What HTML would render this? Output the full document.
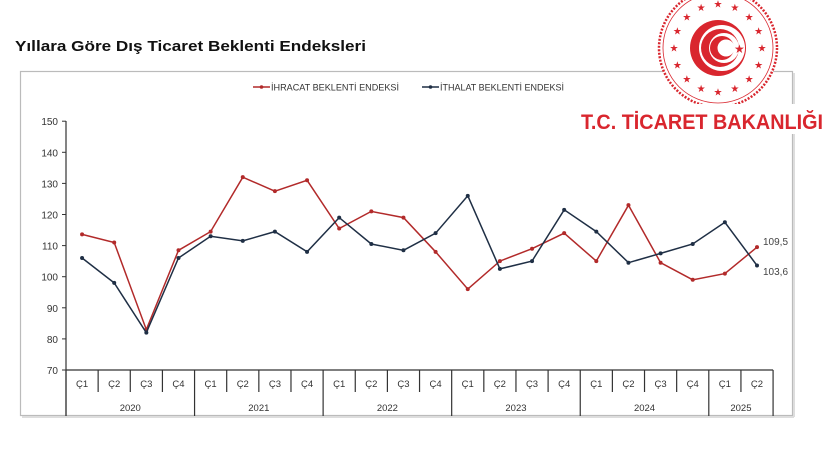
<!DOCTYPE html>
<html><head><meta charset="utf-8"><style>
body{margin:0;background:#fff;width:825px;height:450px;overflow:hidden;font-family:"Liberation Sans",sans-serif}
</style></head><body>
<svg id="s" width="825" height="450" xmlns="http://www.w3.org/2000/svg" font-family="Liberation Sans, sans-serif">
<text x="15" y="51" font-size="15" font-weight="bold" fill="#111" textLength="351" lengthAdjust="spacingAndGlyphs">Yıllara Göre Dış Ticaret Beklenti Endeksleri</text>
<rect x="20.5" y="71.5" width="772" height="344" fill="#fff" stroke="#bbb" stroke-width="1.2"/>
<line x1="22" y1="417" x2="794" y2="417" stroke="#ddd" stroke-width="2"/>
<line x1="794" y1="73" x2="794" y2="417" stroke="#ddd" stroke-width="2"/>
<g id="logo">
<circle cx="718" cy="48" r="60" fill="#fff"/>
<circle cx="718" cy="48" r="59" fill="none" stroke="#d9262e" stroke-width="2.5" stroke-dasharray="2 1.5"/>
<circle cx="718" cy="48" r="55" fill="none" stroke="#d9262e" stroke-width="0.8"/>
<circle cx="718" cy="48" r="28" fill="#d9262e"/>
<circle cx="722" cy="48" r="23" fill="#fff"/>
<circle cx="720" cy="48" r="19" fill="#d9262e"/>
<circle cx="724" cy="48" r="15" fill="#fff"/>
<circle cx="722" cy="48" r="12" fill="#d9262e"/>
<circle cx="726" cy="48" r="8.5" fill="#fff"/>
<text x="734" y="53" font-size="12" fill="#d9262e">★</text>
</g>
<g id="stars" fill="#d9262e" font-size="10" text-anchor="middle"></g>
<rect x="575" y="104" width="250" height="30" fill="#fff"/>
<text x="581" y="129" font-size="21" font-weight="bold" fill="#d9262e" textLength="242" lengthAdjust="spacingAndGlyphs">T.C. TİCARET BAKANLIĞI</text>
<g font-size="9" fill="#333">
<line x1="253" y1="87" x2="270" y2="87" stroke="#b22a2a" stroke-width="1.5"/><circle cx="261.5" cy="87" r="1.8" fill="#b22a2a"/>
<text x="271" y="90.5" textLength="128" lengthAdjust="spacingAndGlyphs">İHRACAT BEKLENTİ ENDEKSİ</text>
<line x1="422" y1="87" x2="439" y2="87" stroke="#1f2f45" stroke-width="1.5"/><circle cx="430.5" cy="87" r="1.8" fill="#1f2f45"/>
<text x="440" y="90.5" textLength="124" lengthAdjust="spacingAndGlyphs">İTHALAT BEKLENTİ ENDEKSİ</text>
</g>
<g id="ax"></g>
</svg>
<script>
var st='';for(var k=0;k<16;k++){var a=k*Math.PI*2/16;st+='<text x="'+(718+44*Math.cos(a))+'" y="'+(48+44*Math.sin(a)+3.5)+'">★</text>';}
document.getElementById('stars').innerHTML=st;
var g=document.getElementById('ax'),h='';
function Y(v){return 370-(v-70)*3.11}
var x0=66,bw=32.14;
h+='<line x1="66" y1="121" x2="66" y2="416" stroke="#333" stroke-width="1.2"/>';
for(var v=70;v<=150;v+=10){var y=Y(v);h+='<line x1="62" y1="'+y+'" x2="66" y2="'+y+'" stroke="#333"/><text x="58" y="'+(y+4)+'" font-size="10" text-anchor="end" fill="#333">'+v+'</text>';}
h+='<line x1="66" y1="370" x2="'+(x0+22*bw)+'" y2="370" stroke="#333" stroke-width="1.2"/>';
for(var i=0;i<22;i++){var cx=x0+bw*(i+.5);h+='<text x="'+cx+'" y="387" font-size="9.5" text-anchor="middle" fill="#333">Ç'+(i%4+1)+'</text>';}
for(var i=0;i<=22;i++){var x=x0+bw*i;var big=(i%4==0)||i==22;h+='<line x1="'+x+'" y1="370" x2="'+x+'" y2="'+(big?416:392)+'" stroke="#333" stroke-width="1.2"/>';}
var yrs=['2020','2021','2022','2023','2024','2025'];
for(var k=0;k<6;k++){var a=k*4,b=Math.min(k*4+4,22);h+='<text x="'+(x0+bw*(a+b)/2)+'" y="411" font-size="9.5" text-anchor="middle" fill="#333">'+yrs[k]+'</text>';}
var r=[113.6,111,83,108.5,114.5,132,127.5,131,115.5,121,119,108,96,105,109,114,105,123,104.5,99,101,109.5];
var t=[106,98,82,106,113,111.5,114.5,108,119,110.5,108.5,114,126,102.5,105,121.5,114.5,104.5,107.5,110.5,117.5,103.6];
function ser(d,c){var p=d.map(function(v,i){return (x0+bw*(i+.5)).toFixed(1)+','+Y(v).toFixed(1)}).join(' ');
var s='<polyline points="'+p+'" fill="none" stroke="'+c+'" stroke-width="1.5"/>';
d.forEach(function(v,i){s+='<circle cx="'+(x0+bw*(i+.5))+'" cy="'+Y(v)+'" r="2" fill="'+c+'"/>'});return s;}
h+=ser(r,'#b22a2a')+ser(t,'#1f2f45');
h+='<text x="763" y="245" font-size="10" fill="#444">109,5</text><text x="763" y="275" font-size="10" fill="#444">103,6</text>';
g.innerHTML=h;
</script>
</body></html>
